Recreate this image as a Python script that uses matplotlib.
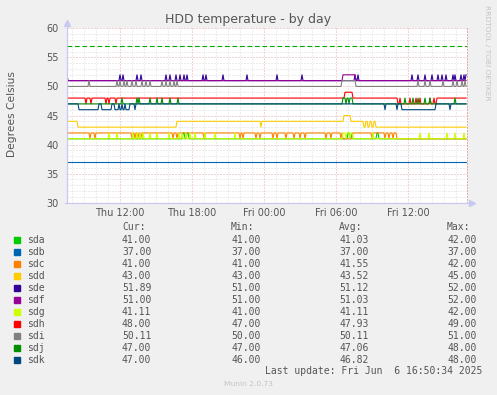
import numpy as np
import pandas as pd
import matplotlib
matplotlib.use("Agg")
import matplotlib.pyplot as plt
import matplotlib.dates as mdates
from matplotlib.ticker import MultipleLocator
from matplotlib.patches import Rectangle
from matplotlib.lines import Line2D

plt.rcParams["lines.scale_dashes"] = False

W, H = 497, 395

# 400 samples, one every 5 minutes
times = pd.date_range("2025-06-05 07:35", periods=400, freq="5min")

names = ["sda", "sdb", "sdc", "sdd", "sde", "sdf", "sdg", "sdh", "sdi", "sdj", "sdk"]
colors = ["#00CC00", "#0066B3", "#FF8000", "#FFCC00", "#330099", "#990099",
          "#CCFF00", "#FF0000", "#808080", "#008F00", "#00487D"]

# baseline temperature of each disk, then (first sample, last sample, value) runs
base = [41, 37, 42, 44, 51, 51, 41, 48, 50, 47, 47]

runs_sda = [(116, 117, 42), (120, 121, 42), (281, 282, 42), (285, 285, 42), (310, 311, 42)]
runs_sdb = []
runs_sdc = [(23, 23, 41), (28, 28, 41), (65, 65, 41), (68, 68, 41), (71, 71, 41),
            (74, 74, 41), (106, 106, 41), (110, 110, 41), (137, 137, 41),
            (173, 173, 41), (176, 176, 41), (189, 189, 41), (193, 193, 41),
            (206, 206, 41), (210, 210, 41), (219, 219, 41), (227, 227, 41),
            (233, 233, 41), (238, 238, 41), (259, 259, 41), (264, 264, 41),
            (274, 274, 41), (276, 285, 41), (305, 305, 41), (318, 318, 41),
            (322, 322, 41), (326, 326, 41), (330, 399, 41)]
runs_sdd = [(11, 109, 43), (194, 194, 43), (277, 283, 45), (297, 298, 43),
            (301, 302, 43), (305, 306, 43), (309, 399, 43)]
runs_sde = [(0, 0, 52), (53, 53, 52), (56, 56, 52), (70, 70, 52), (74, 74, 52),
            (99, 99, 52), (103, 103, 52), (109, 109, 52), (113, 113, 52),
            (117, 117, 52), (120, 120, 52), (136, 136, 52), (139, 139, 52),
            (156, 156, 52), (180, 180, 52), (210, 210, 52), (235, 235, 52),
            (288, 288, 52), (291, 291, 52), (345, 345, 52), (351, 351, 52),
            (358, 358, 52), (365, 365, 52), (371, 371, 52), (375, 375, 52),
            (379, 379, 52), (386, 386, 52), (388, 388, 52), (394, 394, 52),
            (397, 397, 52), (399, 399, 52)]
runs_sdf = [(276, 288, 52)]
runs_sdg = [(42, 42, 42), (50, 50, 42), (66, 66, 42), (70, 70, 42), (73, 73, 42),
            (76, 76, 42), (83, 83, 42), (90, 90, 42), (102, 102, 42),
            (112, 112, 42), (115, 115, 42), (119, 119, 42), (123, 123, 42),
            (128, 128, 42), (138, 138, 42), (148, 148, 42), (168, 168, 42),
            (276, 278, 42), (280, 282, 42), (284, 285, 42), (306, 306, 42),
            (353, 353, 42), (362, 362, 42), (380, 380, 42), (388, 388, 42),
            (397, 397, 42)]
runs_sdh = [(19, 19, 47), (24, 24, 47), (39, 39, 47), (42, 42, 47), (49, 49, 47),
            (278, 285, 49), (331, 369, 47), (333, 333, 48), (343, 343, 48),
            (349, 349, 48), (353, 353, 48), (363, 363, 48), (367, 367, 48)]
runs_sdi = [(22, 22, 51), (50, 50, 51), (53, 53, 51), (57, 57, 51), (60, 60, 51),
            (65, 65, 51), (69, 69, 51), (75, 75, 51), (79, 79, 51), (83, 83, 51),
            (95, 95, 51), (99, 99, 51), (103, 103, 51), (107, 107, 51),
            (110, 110, 51), (275, 288, 51), (351, 351, 51), (358, 358, 51),
            (363, 363, 51), (376, 376, 51), (386, 386, 51), (390, 390, 51),
            (395, 395, 51), (398, 398, 51)]
runs_sdj = [(55, 55, 48), (70, 70, 48), (72, 72, 48), (83, 83, 48), (90, 90, 48),
            (95, 95, 48), (103, 103, 48), (111, 111, 48), (276, 285, 48),
            (279, 279, 47), (282, 282, 47), (338, 338, 48), (346, 346, 48),
            (351, 351, 48), (358, 358, 48), (363, 363, 48), (388, 388, 48)]
runs_sdk = [(12, 62, 46), (32, 34, 47), (45, 47, 47), (52, 52, 47), (55, 55, 47),
            (58, 58, 47), (68, 68, 46), (318, 318, 46), (330, 330, 46),
            (335, 368, 46), (383, 383, 46)]

all_runs = [runs_sda, runs_sdb, runs_sdc, runs_sdd, runs_sde, runs_sdf,
            runs_sdg, runs_sdh, runs_sdi, runs_sdj, runs_sdk]

cur_vals = [41.00, 37.00, 41.00, 43.00, 51.89, 51.00, 41.11, 48.00, 50.11, 47.00, 47.00]
min_vals = [41.00, 37.00, 41.00, 43.00, 51.00, 51.00, 41.00, 47.00, 50.00, 47.00, 46.00]
avg_vals = [41.03, 37.00, 41.55, 43.52, 51.12, 51.03, 41.11, 47.93, 50.11, 47.06, 46.82]
max_vals = [42.00, 37.00, 42.00, 45.00, 52.00, 52.00, 42.00, 49.00, 51.00, 48.00, 48.00]

warning_level = 57

txt = "#555555"
fig = plt.figure(figsize=(W / 100, H / 100), dpi=100, facecolor="#F0F0F0")
ax = fig.add_axes([67 / W, 1 - 202.7 / H, 400 / W, 174.4 / H])
ax.set_facecolor("white")

for name, col, b, runs in zip(names, colors, base, all_runs):
    vals = np.full(len(times), float(b))
    for s, e, v in runs:
        vals[s:e + 1] = v
    ax.plot(times, vals, color=col, lw=0.8, zorder=3)

ax.axhline(warning_level, color="#00AA00", lw=0.8, dashes=(3.4, 2.0), zorder=2)

ax.set_xlim(times[0], times[0] + pd.Timedelta(minutes=5 * 400))
ax.set_ylim(30, 60)
ax.yaxis.set_major_locator(MultipleLocator(5))
ax.yaxis.set_minor_locator(MultipleLocator(1))
ax.xaxis.set_major_locator(mdates.HourLocator(byhour=[0, 6, 12, 18]))
ax.xaxis.set_minor_locator(mdates.HourLocator())
ax.xaxis.set_major_formatter(mdates.DateFormatter("%a %H:%M"))

ax.set_axisbelow(True)
ax.grid(which="minor", color="#D8D8D8", lw=0.7, linestyle=(0, (0.72, 1.44)))
ax.grid(which="major", color="#E8A8A8", lw=0.7, linestyle=(0, (0.72, 1.44)))
ax.tick_params(which="both", length=0, colors=txt, labelsize=7)
ax.tick_params(axis="x", pad=3.6)
ax.tick_params(axis="y", pad=5.8)

for side in ["top", "left", "bottom"]:
    ax.spines[side].set_visible(False)
ax.spines["right"].set_color("#E8A8A8")
ax.spines["right"].set_linewidth(0.7)
ax.spines["right"].set_linestyle((0, (0.72, 1.44)))

axis_col = "#C8C8F0"
ax.add_line(Line2D([0, 0], [0, 1.03], transform=ax.transAxes, color=axis_col,
                   lw=0.9, clip_on=False, zorder=4))
ax.add_line(Line2D([0], [1.03], transform=ax.transAxes, color=axis_col, marker="^",
                   ms=4, clip_on=False, zorder=4))
ax.add_line(Line2D([-0.005, 1.012], [0, 0], transform=ax.transAxes, color=axis_col,
                   lw=0.9, clip_on=False, zorder=4))
ax.add_line(Line2D([1.012], [0], transform=ax.transAxes, color=axis_col, marker=">",
                   ms=4, clip_on=False, zorder=4))

fig.text(248 / W, 1 - 19 / H, "HDD temperature - by day", ha="center", va="center",
         fontsize=9, color=txt)
fig.text(12 / W, 1 - 114 / H, "Degrees Celsius", rotation=90, ha="center",
         va="center", fontsize=7.7, color=txt)
fig.text(487 / W, 1 - 5 / H, "RRDTOOL / TOBI OETIKER", rotation=270, ha="center",
         va="top", fontsize=5.4, color="#C4C4C4")

# legend table
mono = "DejaVu Sans Mono"
col_x = [122, 231, 339, 447]
for x, head in zip(col_x, ["Cur:", "Min:", "Avg:", "Max:"]):
    fig.text(x / W, 1 - 226.7 / H, head, ha="left", va="center", family=mono,
             fontsize=7, color=txt)
for k, (name, col) in enumerate(zip(names, colors)):
    y = 240 + 11.97 * k
    fig.add_artist(Rectangle((14 / W, 1 - (y + 3) / H), 6 / W, 6 / H,
                             transform=fig.transFigure, color=col))
    fig.text(26.7 / W, 1 - y / H, name, ha="left", va="center", family=mono,
             fontsize=7, color=txt)
    for x, v in zip(col_x, [cur_vals[k], min_vals[k], avg_vals[k], max_vals[k]]):
        fig.text(x / W, 1 - y / H, "%.2f" % v, ha="left", va="center",
                 family=mono, fontsize=7, color=txt)

fig.text(482.3 / W, 1 - 371.3 / H, "Last update: Fri Jun  6 16:50:34 2025",
         ha="right", va="center", family=mono, fontsize=7, color=txt)
fig.text(248 / W, 1 - 384 / H, "Munin 2.0.73", ha="center", va="center",
         fontsize=5.4, color="#C4C4C4")

fig.savefig("out.png", dpi=100, facecolor=fig.get_facecolor())
